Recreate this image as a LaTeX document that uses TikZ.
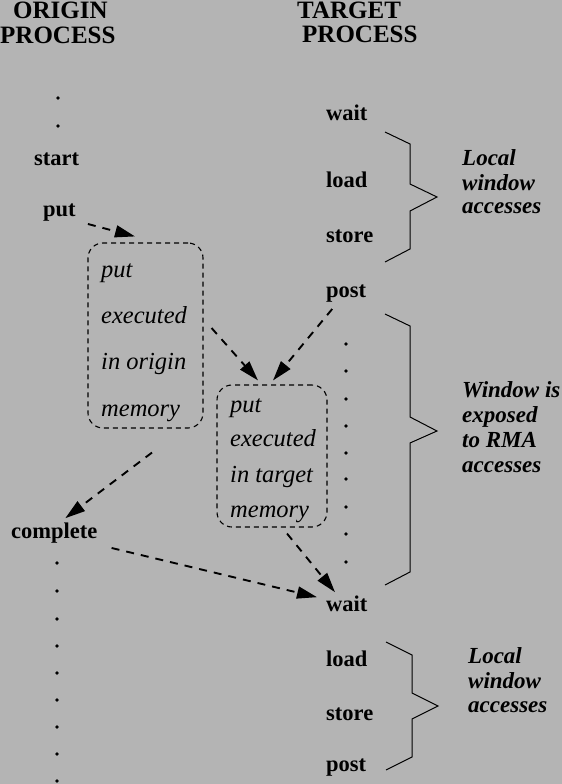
\documentclass[tikz,border=0pt]{standalone}
\usepackage{fontspec}
\setmainfont{Liberation Serif}
\usetikzlibrary{arrows.meta,calc}
\definecolor{bg}{RGB}{180,180,180}
\begin{document}
\begin{tikzpicture}[x=1bp,y=-1bp,
  lbl/.style={inner sep=0pt,anchor=base west,font=\fontsize{22.5bp}{24bp}\selectfont\bfseries},
  head/.style={inner sep=0pt,anchor=base west,font=\fontsize{25bp}{26bp}\selectfont\bfseries},
  itl/.style={inner sep=0pt,anchor=base west,font=\fontsize{24.5bp}{26bp}\selectfont\itshape},
  bitl/.style={inner sep=0pt,anchor=base west,font=\fontsize{23bp}{24bp}\selectfont\bfseries\itshape},
  dbox/.style={draw,dash pattern=on 5bp off 4bp,line width=1.1bp,rounded corners=15bp},
  flow/.style={draw,line width=1.9bp,dash pattern=on 8bp off 7bp,-{Triangle[length=20bp,width=12bp]}},
  brace/.style={draw,line width=1bp},
  dotc/.style={fill=black}]
\fill[bg] (0,0) rectangle (562,784);
\useasboundingbox (0,0) rectangle (562,784);

% headings
\node[head] (h1) at (13,18.5) {ORIGIN};
\node[head] (h2) at (0,44) {PROCESS};
\node[head] (h3) at (297,18.5) {TARGET};
\node[head] (h4) at (302,43) {PROCESS};

% origin column
\foreach \y in {98,126} \fill[dotc] (58,\y) circle (1.8);
\node[lbl] (start) at (34,165) {start};
\node[lbl] (put) at (43,216) {put};
\node[lbl] (complete) at (11,538) {complete};
\foreach \y in {563,591,619,646,673,700,727,754,781} \fill[dotc] (57,\y) circle (1.8);

% origin box
\node[dbox,minimum width=115bp,minimum height=185bp] (obox) at (145.5,335.5) {};
\node[itl] (o1) at (101,277) {put};
\node[itl] (o2) at (101,323) {executed};
\node[itl] (o3) at (101,369) {in origin};
\node[itl] (o4) at (101,416) {memory};

% target box
\node[dbox,minimum width=110bp,minimum height=142bp] (tbox) at (272,456) {};
\node[itl] (t1) at (230,412) {put};
\node[itl] (t2) at (230,446) {executed};
\node[itl] (t3) at (230,482) {in target};
\node[itl] (t4) at (230,517) {memory};

% target column
\node[lbl] (wait1) at (326,120) {wait};
\node[lbl] (load1) at (326,187) {load};
\node[lbl] (store1) at (326,242) {store};
\node[lbl] (post1) at (326,297) {post};
\foreach \y in {344,371,399,426,453,479,507,534,562} \fill[dotc] (346,\y) circle (1.8);
\node[lbl] (wait2) at (326,611) {wait};
\node[lbl] (load2) at (326,666) {load};
\node[lbl] (store2) at (326,720) {store};
\node[lbl] (post2) at (326,771) {post};

% braces
\draw[brace] (385,132) -- (410,144) -- (410,184) -- (437,197) -- (410,211) -- (410,249) -- (385,262);
\draw[brace] (385,314) -- (410,326) -- (410,417) -- (437,431) -- (410,443) -- (410,572) -- (385,585);
\draw[brace] (386,642) -- (412,655) -- (412,693) -- (438,706) -- (412,719) -- (412,757) -- (386,770);

% labels
\node[bitl] (l1) at (462,165) {Local};
\node[bitl] (l2) at (462,190) {window};
\node[bitl] (l3) at (462,213) {accesses};
\node[bitl] (w1) at (462,397) {Window is};
\node[bitl] (w2) at (462,422) {exposed};
\node[bitl] (w3) at (462,447) {to RMA};
\node[bitl] (w4) at (462,472) {accesses};
\node[bitl] (m1) at (468,663) {Local};
\node[bitl] (m2) at (468,688) {window};
\node[bitl] (m3) at (468,712) {accesses};

% connectors
\draw[flow] ($(put.south east)+(12,3)$) -- ($(obox.north)+(-10.5,-6)$);
\draw[flow] ($(obox.east)+(8,-7.5)$) -- ($(tbox.north)+(-14,-4)$);
\draw[flow] ($(post1.south)+(-14,7)$) -- ($(tbox.north)+(1,-4)$);
\draw[flow] ($(obox.south)+(6.5,24)$) -- ($(complete.north)+(11,-4)$);
\draw[flow] ($(complete.south east)+(14,5)$) -- ($(wait2.north west)+(-9,2)$);
\draw[flow] ($(tbox.south)+(15,6)$) -- ($(wait2.north west)+(9,-3)$);
\end{tikzpicture}
\end{document}
